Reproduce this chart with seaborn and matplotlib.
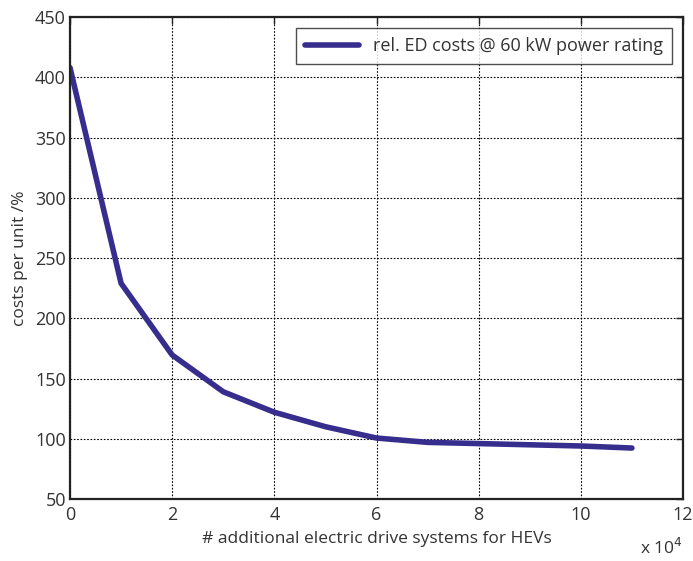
import matplotlib
matplotlib.use("Agg")
import matplotlib.pyplot as plt
import seaborn as sns
import pandas as pd

# Number of additional electric drive systems (units) and relative cost per unit (%)
units = [0, 10000, 20000, 30000, 40000, 50000, 60000, 70000, 80000, 90000, 100000, 110000]
rel_cost = [408, 229, 169.5, 139, 122, 110, 100.6, 97, 96, 95, 94, 92.3]
series_name = "rel. ED costs @ 60 kW power rating"

df = pd.DataFrame({"units": units, "cost": rel_cost})

sns.set_theme(style="white")
plt.rcParams["font.family"] = ["Open Sans", "DejaVu Sans"]

fig = plt.figure(figsize=(6.93, 5.61), dpi=100)
ax = fig.add_axes([0.101, 0.1105, 0.8846, 0.8592])

sns.lineplot(data=df, x="units", y="cost", ax=ax, color="#372d8c",
             linewidth=4.0, label=series_name)

ax.set_xlim(0, 120000)
ax.set_ylim(50, 450)
ax.set_xticks(range(0, 120001, 20000))
ax.set_xticklabels([str(v // 10000) for v in range(0, 120001, 20000)])
ax.set_yticks(range(50, 451, 50))

ax.grid(True, color="black", linestyle=(0, (1.5, 1.5)), linewidth=0.8)
for s in ax.spines.values():
    s.set_color("#222222")
    s.set_linewidth(1.6)
ax.tick_params(direction="in", length=5, width=1, colors="#222222",
               labelsize=13, top=True, right=True, pad=3)
ax.tick_params(axis="x", pad=5)
for lab in ax.get_xticklabels() + ax.get_yticklabels():
    lab.set_color("#333333")

ax.set_xlabel("# additional electric drive systems for HEVs", fontsize=12.5,
              color="#333333", labelpad=5)
ax.set_ylabel("costs per unit /%", fontsize=12.5, color="#333333", labelpad=5)
ax.text(1.0, -0.08, r"x 10$^4$", transform=ax.transAxes, ha="right",
        va="top", fontsize=12.5, color="#333333")

leg = ax.legend(loc="upper right", fontsize=13, frameon=True, fancybox=False,
                handlelength=3.0, borderpad=0.5, borderaxespad=0.6)
leg.get_frame().set_edgecolor("#222222")
leg.get_frame().set_linewidth(1.0)
for t in leg.get_texts():
    t.set_color("#333333")

fig.savefig("out.png", dpi=100)
